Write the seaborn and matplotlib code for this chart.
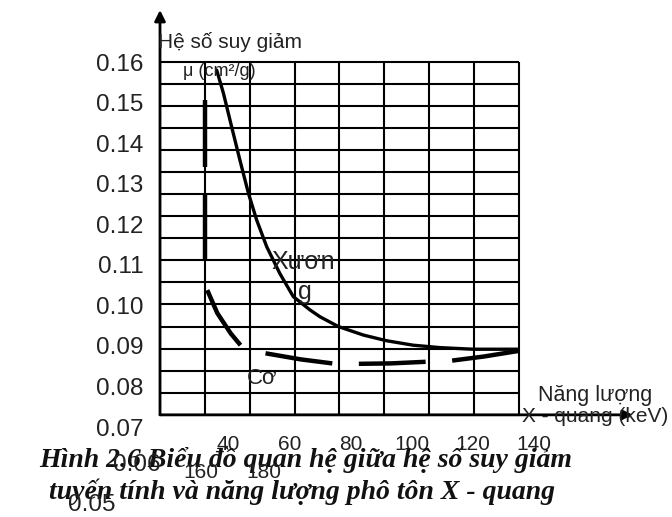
import numpy as np
import pandas as pd
import seaborn as sns
import matplotlib.pyplot as plt

# values (energy in keV, mu in cm2/g)
bone_kev = [36.1, 38.3, 41.0, 43.7, 46.5, 49.2, 52.5, 56.8, 61.2, 66.7, 70.0, 76.0,
            84.2, 91.8, 100.5, 109.3, 120.2, 135.0]
bone_mu = [0.1581, 0.1524, 0.1441, 0.1359, 0.1277, 0.1211, 0.1145, 0.1079, 0.1022,
           0.0989, 0.0972, 0.0948, 0.0927, 0.0913, 0.0902, 0.0896, 0.0892, 0.0892]

# the muscle curve is drawn as a broken (dashed) line -> one id per dash
muscle_seg = [1, 1, 2, 2, 3, 3, 3, 3, 4, 4, 4, 5, 5, 5, 6, 6, 6]
muscle_kev = [32.2, 32.2, 32.2, 32.2, 33.0, 36.3, 40.7, 43.9, 52.1, 63.6, 74.0,
              82.7, 93.1, 104.6, 113.3, 123.7, 135.2]
muscle_mu = [0.1507, 0.1342, 0.1273, 0.1110, 0.1038, 0.0981, 0.0931, 0.0902, 0.0882,
             0.0867, 0.0857, 0.0856, 0.0857, 0.0861, 0.0864, 0.0874, 0.0888]

x_ticks = [40, 60, 80, 100, 120, 140]
y_ticks = [0.07, 0.08, 0.09, 0.10, 0.11, 0.12, 0.13, 0.14, 0.15, 0.16]

sns.set_style("white")
plt.rcParams["font.family"] = ["Liberation Sans", "DejaVu Sans"]

W, H = 672, 517
fig = plt.figure(figsize=(W / 100, H / 100), dpi=100)
ax = fig.add_axes([160 / W, (H - 427) / H, 480 / W, 417 / H])

def fx(px):
    return px / W

def fy(py):
    return 1 - py / H

# grid box (8 columns x 16 rows)
grid_x = np.linspace(17.5, 135.2, 9)
grid_y = np.linspace(0.073, 0.1602, 17)
ax.vlines(grid_x, grid_y[0], grid_y[-1], colors="black", lw=1.5, zorder=1)
ax.hlines(grid_y, grid_x[0], grid_x[-1], colors="black", lw=1.5, zorder=1)

bone = pd.DataFrame({"keV": bone_kev, "mu": bone_mu})
muscle = pd.DataFrame({"seg": muscle_seg, "keV": muscle_kev, "mu": muscle_mu})

sns.lineplot(data=bone, x="keV", y="mu", sort=False, estimator=None,
             color="black", lw=2.4, ax=ax, zorder=3)
sns.lineplot(data=muscle, x="keV", y="mu", units="seg", sort=False, estimator=None,
             color="black", lw=3.2, ax=ax, zorder=3, solid_capstyle="butt")

ax.set_xlim(17.5, 174.9)
ax.set_ylim(0.07, 0.17296)
for s in ax.spines.values():
    s.set_visible(False)

# axes with arrow heads
ax.annotate("", xy=(172.5, 0.073), xytext=(17.5, 0.073),
            arrowprops=dict(arrowstyle="-|>", lw=2, color="black", mutation_scale=14,
                            shrinkA=0, shrinkB=0))
ax.annotate("", xy=(17.5, 0.17296), xytext=(17.5, 0.073),
            arrowprops=dict(arrowstyle="-|>", lw=2, color="black", mutation_scale=16,
                            shrinkA=0, shrinkB=0), annotation_clip=False)

ax.set_xticks(x_ticks)
ax.set_xticklabels([str(v) for v in x_ticks])
ax.set_yticks(y_ticks)
ax.set_yticklabels([f"{v:.2f}" for v in y_ticks])
ax.tick_params(axis="x", length=0, pad=6, labelsize=15, colors="#222222")
ax.tick_params(axis="y", length=0, pad=12, labelsize=17.5, colors="#222222")
ax.set_xlabel("")
ax.set_ylabel("")

tc = "#222222"
fig.text(fx(158), fy(42), "Hệ số suy giảm", fontsize=15, color=tc, va="center")
fig.text(fx(183), fy(71), "μ (cm²/g)", fontsize=13, color=tc, va="center")
fig.text(fx(271), fy(262), "Xươn", fontsize=18, color=tc, va="center")
fig.text(fx(298), fy(292), "g", fontsize=18, color=tc, va="center")
fig.text(fx(247), fy(379), "Cơ", fontsize=16, color=tc, va="center")
fig.text(fx(538), fy(395), "Năng lượng", fontsize=15.5, color=tc, va="center")
fig.text(fx(522), fy(417), "X - quang (keV)", fontsize=15, color=tc, va="center")

# caption in a script-like italic, overlapped by stray tick labels as in the scan
cap = dict(family=["Liberation Serif", "DejaVu Serif"], style="italic", weight="bold",
           fontsize=20, color="#111111", ha="center", va="center")
fig.text(fx(306), fy(460), "Hình 2.6 Biểu đồ quan hệ giữa hệ số suy giảm", **cap)
fig.text(fx(302), fy(492), "tuyến tính và năng lượng phô tôn X - quang", **cap)

fig.text(fx(137), fy(465), "0.06", fontsize=17.5, color=tc, ha="center", va="center")
fig.text(fx(92), fy(505), "0.05", fontsize=17.5, color=tc, ha="center", va="center")
fig.text(fx(201), fy(472), "160", fontsize=15, color=tc, ha="center", va="center")
fig.text(fx(264), fy(472), "180", fontsize=15, color=tc, ha="center", va="center")

fig.savefig("out.png", dpi=100)
